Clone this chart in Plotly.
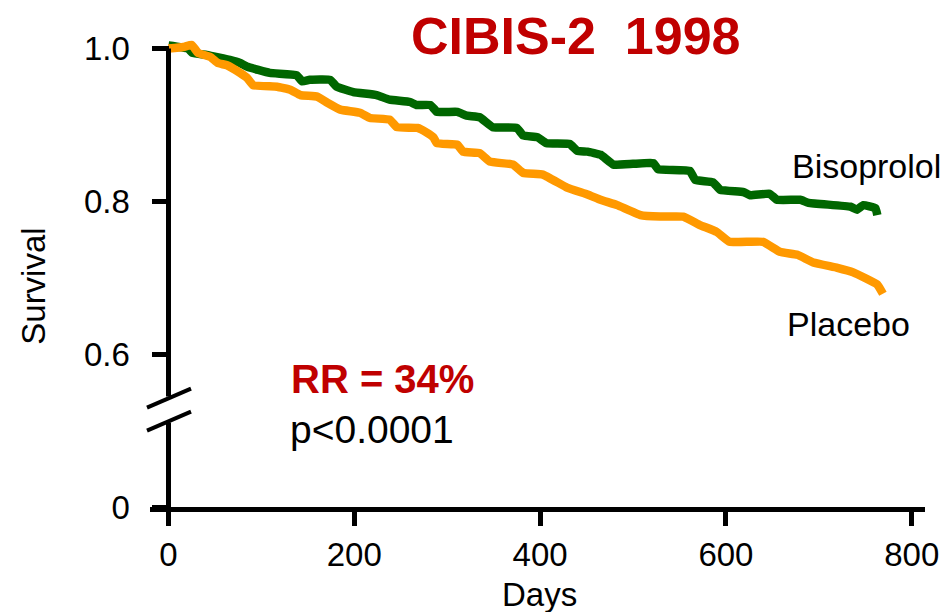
import plotly.graph_objects as go

# ---------------- data ----------------
bis_days = [0, 21, 26, 41, 55, 66, 77, 85, 109, 138, 144, 152, 174, 181, 199, 224, 238, 260, 267, 282,
            289, 311, 321, 335, 349, 375, 382, 397, 407, 432, 440, 451, 465, 479, 500, 522, 527, 561,
            567, 586, 594, 619, 626, 647, 655, 680, 689, 734, 741, 748, 761, 763]
bis_surv = [1.004, 1.000, 0.994, 0.9915, 0.988, 0.985, 0.981, 0.976, 0.968, 0.965, 0.957, 0.959, 0.959,
            0.950, 0.943, 0.939, 0.933, 0.930, 0.926, 0.926, 0.917, 0.917, 0.912, 0.910, 0.897, 0.896,
            0.886, 0.884, 0.876, 0.875, 0.866, 0.865, 0.861, 0.848, 0.849, 0.850, 0.842, 0.840, 0.828,
            0.825, 0.815, 0.812, 0.808, 0.810, 0.802, 0.802, 0.798, 0.793, 0.789, 0.795, 0.791, 0.782]

pla_days = [0, 16, 25, 32, 45, 53, 63, 77, 85, 91, 117, 131, 142, 160, 171, 185, 206, 217, 238, 246,
            268, 278, 285, 289, 311, 317, 335, 346, 371, 382, 403, 429, 451, 465, 483, 508, 529, 554,
            572, 590, 604, 640, 658, 677, 694, 720, 737, 763, 769]
pla_surv = [1.000, 1.002, 1.0046, 0.994, 0.989, 0.981, 0.978, 0.968, 0.961, 0.952, 0.950, 0.946, 0.939,
            0.937, 0.929, 0.920, 0.916, 0.909, 0.907, 0.897, 0.896, 0.890, 0.884, 0.876, 0.874, 0.865,
            0.863, 0.852, 0.848, 0.837, 0.835, 0.818, 0.809, 0.802, 0.795, 0.782, 0.780, 0.780, 0.769,
            0.760, 0.747, 0.747, 0.734, 0.730, 0.720, 0.713, 0.707, 0.691, 0.679]

x_ticks = [0, 200, 400, 600, 800]
y_tickvals = [0.4, 0.6, 0.8, 1.0]          # 0.4 is the plotted position of the broken-axis "0"
y_ticktext = ["0", "0.6", "0.8", "1.0"]

# ---------------- layout helpers (pixel -> paper) ----------------
W, H = 946, 612
ML, MR, MT = 150, 21, 30
PB = 507.5
PW = W - ML - MR
PH = PB - MT


def px(p):
    return (p - ML) / PW


def py(p):
    return (PB - p) / PH


FONT = "Liberation Sans, Arial, sans-serif"
GREEN = "#006600"
ORANGE = "#FF9900"
RED = "#C00000"

fig = go.Figure()
fig.add_trace(go.Scatter(x=bis_days, y=bis_surv, mode="lines",
                         line=dict(color=GREEN, width=8.5, shape="spline", smoothing=0.3),
                         hoverinfo="skip"))
fig.add_trace(go.Scatter(x=pla_days, y=pla_surv, mode="lines",
                         line=dict(color=ORANGE, width=8.5, shape="spline", smoothing=0.3),
                         hoverinfo="skip"))

yaxis_x = px(168.5)

shapes = [
    # y axis line (broken)
    dict(type="line", xref="paper", yref="paper", x0=yaxis_x, x1=yaxis_x, y0=py(48.5), y1=py(397),
         line=dict(color="black", width=5)),
    dict(type="line", xref="paper", yref="paper", x0=yaxis_x, x1=yaxis_x, y0=py(423), y1=py(PB),
         line=dict(color="black", width=5)),
    # break marks
    dict(type="line", xref="paper", yref="paper", x0=px(147), y0=py(408), x1=px(191), y1=py(389),
         line=dict(color="black", width=4)),
    dict(type="line", xref="paper", yref="paper", x0=px(147), y0=py(431), x1=px(191), y1=py(412),
         line=dict(color="black", width=4)),
]

annotations = [
    dict(text="CIBIS-2\u00a0\u00a01998", xref="paper", yref="paper", x=px(576), y=py(36),
         xanchor="center", yanchor="middle", showarrow=False,
         font=dict(family=FONT, size=52, color=RED, weight="bold")),
    dict(text="<b>RR = 34%</b>", xref="paper", yref="paper", x=px(289), y=py(379),
         xanchor="left", yanchor="middle", showarrow=False,
         font=dict(family=FONT, size=40, color=RED)),
    dict(text="p<0.0001", xref="paper", yref="paper", x=px(288), y=py(430),
         xanchor="left", yanchor="middle", showarrow=False,
         font=dict(family=FONT, size=39, color="black")),
    dict(text="Bisoprolol", xref="paper", yref="paper", x=px(790), y=py(166),
         xanchor="left", yanchor="middle", showarrow=False,
         font=dict(family=FONT, size=34, color="black")),
    dict(text="Placebo", xref="paper", yref="paper", x=px(785), y=py(324),
         xanchor="left", yanchor="middle", showarrow=False,
         font=dict(family=FONT, size=34, color="black")),
    dict(text="Survival", xref="paper", yref="paper", x=px(34), y=py(286),
         xanchor="center", yanchor="middle", showarrow=False, textangle=-90,
         font=dict(family=FONT, size=33, color="black")),
    dict(text="Days", xref="paper", yref="paper", x=px(539), y=py(595),
         xanchor="center", yanchor="middle", showarrow=False,
         font=dict(family=FONT, size=33, color="black")),
]

fig.update_layout(
    width=W, height=H,
    margin=dict(l=ML, r=MR, t=MT, b=H - PB, pad=0, autoexpand=False),
    paper_bgcolor="white", plot_bgcolor="white",
    showlegend=False, hovermode=False,
    font=dict(family=FONT, size=33, color="black"),
    xaxis=dict(range=[-19.9, 814.3], domain=[0, 1], tickvals=x_ticks, automargin=False,
               ticks="outside", ticklen=14, tickwidth=5, tickcolor="black",
               showline=True, linewidth=5, linecolor="black",
               showgrid=False, zeroline=False,
               tickfont=dict(family=FONT, size=33, color="black")),
    yaxis=dict(range=[0.4, 1.02418], anchor="free", position=yaxis_x, automargin=False,
               tickvals=y_tickvals, ticktext=y_ticktext, ticklabelstandoff=15,
               ticks="outside", ticklen=17, tickwidth=5, tickcolor="black",
               showline=False, showgrid=False, zeroline=False,
               tickfont=dict(family=FONT, size=33, color="black")),
    shapes=shapes,
    annotations=annotations,
)

fig.write_html("out.html")
